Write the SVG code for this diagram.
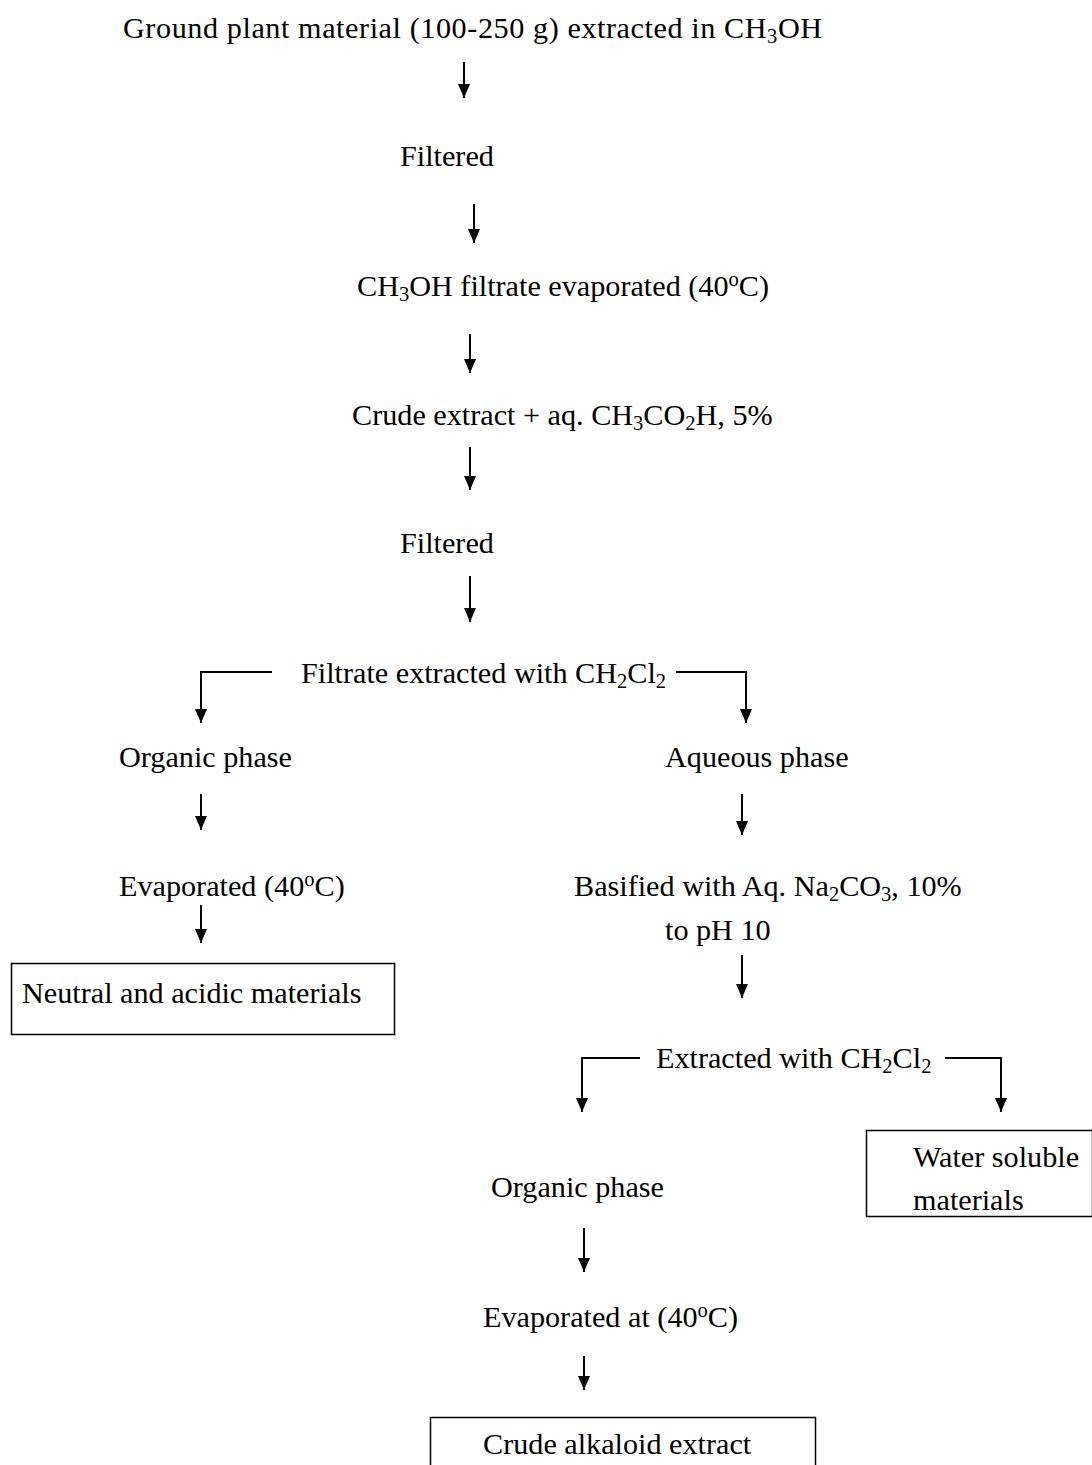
<svg xmlns="http://www.w3.org/2000/svg" width="1092" height="1465" viewBox="0 0 1092 1465">
<style>
text{font-family:"Liberation Serif","Times New Roman",serif;font-size:30.2px;fill:#000}
.sub{font-size:20.5px}
.c{stroke:#000;stroke-width:2;fill:none}
.box{stroke:#000;stroke-width:1.5;fill:none}
</style>
<defs>
<marker id="ah" viewBox="0 0 14 12" refX="14" refY="6" markerWidth="14" markerHeight="12" markerUnits="userSpaceOnUse" orient="auto">
<path d="M0,0 L14,6 L0,12 Z" fill="#000"/>
</marker>
</defs>
<rect width="1092" height="1465" fill="#fff"/>
<g id="connectors">
<path class="c" d="M464 62 V98" marker-end="url(#ah)"/>
<path class="c" d="M474 204 V243" marker-end="url(#ah)"/>
<path class="c" d="M470 334 V373" marker-end="url(#ah)"/>
<path class="c" d="M470 447 V490" marker-end="url(#ah)"/>
<path class="c" d="M470 576 V622" marker-end="url(#ah)"/>
<path class="c" d="M272 672 H201 V723" marker-end="url(#ah)"/>
<path class="c" d="M676 672 H746 V723" marker-end="url(#ah)"/>
<path class="c" d="M201 794 V830" marker-end="url(#ah)"/>
<path class="c" d="M742 794 V835" marker-end="url(#ah)"/>
<path class="c" d="M201 905 V943" marker-end="url(#ah)"/>
<path class="c" d="M742 955 V998" marker-end="url(#ah)"/>
<path class="c" d="M640 1058 H582 V1112" marker-end="url(#ah)"/>
<path class="c" d="M945 1058 H1001 V1112" marker-end="url(#ah)"/>
<path class="c" d="M584 1228 V1272" marker-end="url(#ah)"/>
<path class="c" d="M584 1356 V1390" marker-end="url(#ah)"/>
</g>
<g id="n1"><text x="123" y="38" letter-spacing="0.57">Ground plant material (100-250 g) extracted in CH<tspan class="sub" dy="5">3</tspan><tspan dy="-5">OH</tspan></text></g>
<g id="n2"><text x="400" y="166">Filtered</text></g>
<g id="n3"><text x="357" y="296">CH<tspan class="sub" dy="5">3</tspan><tspan dy="-5">OH filtrate evaporated (40</tspan><tspan class="sub" dy="-10">o</tspan><tspan dy="10">C)</tspan></text></g>
<g id="n4"><text x="352" y="425">Crude extract + aq. CH<tspan class="sub" dy="5">3</tspan><tspan dy="-5">CO</tspan><tspan class="sub" dy="5">2</tspan><tspan dy="-5">H, 5%</tspan></text></g>
<g id="n5"><text x="400" y="553">Filtered</text></g>
<g id="n6"><text x="301" y="683">Filtrate extracted with CH<tspan class="sub" dy="5">2</tspan><tspan dy="-5">Cl</tspan><tspan class="sub" dy="5">2</tspan></text></g>
<g id="n7"><text x="119" y="767">Organic phase</text></g>
<g id="n8"><text x="665" y="767">Aqueous phase</text></g>
<g id="n9"><text x="119" y="896">Evaporated (40<tspan class="sub" dy="-10">o</tspan><tspan dy="10">C)</tspan></text></g>
<g id="n10"><text x="574" y="896">Basified with Aq. Na<tspan class="sub" dy="5">2</tspan><tspan dy="-5">CO</tspan><tspan class="sub" dy="5">3</tspan><tspan dy="-5">, 10%</tspan></text><text x="665" y="940">to pH 10</text></g>
<g id="n11"><rect class="box" x="11.5" y="963.5" width="383" height="71"/><text x="22" y="1003">Neutral and acidic materials</text></g>
<g id="n12"><text x="656" y="1068">Extracted with CH<tspan class="sub" dy="5">2</tspan><tspan dy="-5">Cl</tspan><tspan class="sub" dy="5">2</tspan></text></g>
<g id="n13"><rect class="box" x="866.5" y="1130.5" width="226" height="86"/><text x="913" y="1167">Water soluble</text><text x="913" y="1210">materials</text></g>
<g id="n14"><text x="491" y="1197">Organic phase</text></g>
<g id="n15"><text x="483" y="1327">Evaporated at (40<tspan class="sub" dy="-10">o</tspan><tspan dy="10">C)</tspan></text></g>
<g id="n16"><path class="box" d="M430.5 1470 V1417.5 H815.5 V1470"/><text x="483" y="1454">Crude alkaloid extract</text></g>
</svg>
